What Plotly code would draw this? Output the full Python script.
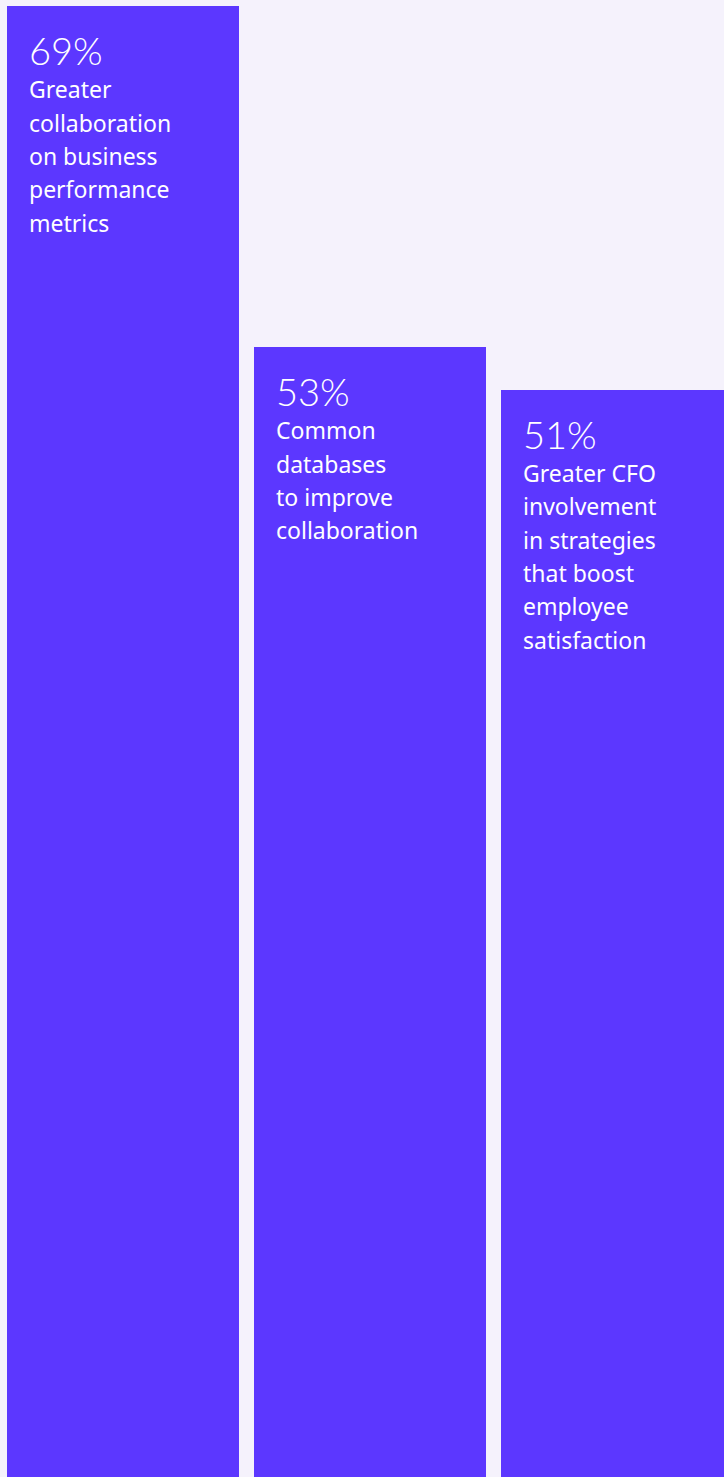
import plotly.graph_objects as go

# Survey results: share of respondents per outcome
values = [69, 53, 51]
labels = ["69%", "53%", "51%"]
descriptions = [
    ["Greater", "collaboration", "on business", "performance", "metrics"],
    ["Common", "databases", "to improve", "collaboration"],
    ["Greater CFO", "involvement", "in strategies", "that boost", "employee", "satisfaction"],
]

BAR_COLOR = "#5C37FF"
BG_COLOR = "#F5F2FC"
BAR_WIDTH = 0.939

xs = list(range(len(values)))

fig = go.Figure(
    go.Bar(
        x=xs,
        y=values,
        width=BAR_WIDTH,
        marker=dict(color=BAR_COLOR, line=dict(width=0)),
        hoverinfo="skip",
    )
)

annotations = []
for i, (v, lab, desc) in enumerate(zip(values, labels, descriptions)):
    left = xs[i] - BAR_WIDTH / 2
    annotations.append(dict(
        x=left, y=v, xref="x", yref="y",
        text=lab, showarrow=False,
        xanchor="left", yanchor="top",
        xshift=20, yshift=-19,
        font=dict(family="Lato", size=38, color="white", weight=300),
    ))
    for j, line in enumerate(desc):
        annotations.append(dict(
            x=left, y=v, xref="x", yref="y",
            text=line, showarrow=False,
            xanchor="left", yanchor="top",
            xshift=20, yshift=-65 - 33.3 * j,
            font=dict(family="Noto Sans", size=23, color="white"),
        ))

fig.update_layout(
    width=724,
    height=1477,
    margin=dict(l=0, r=0, t=0, b=0),
    paper_bgcolor=BG_COLOR,
    plot_bgcolor=BG_COLOR,
    showlegend=False,
    bargap=0,
    xaxis=dict(range=[-123 / 247, 601 / 247], visible=False, fixedrange=True),
    yaxis=dict(range=[0, 69.3], visible=False, fixedrange=True),
    annotations=annotations,
)

fig.write_html("out.html")
